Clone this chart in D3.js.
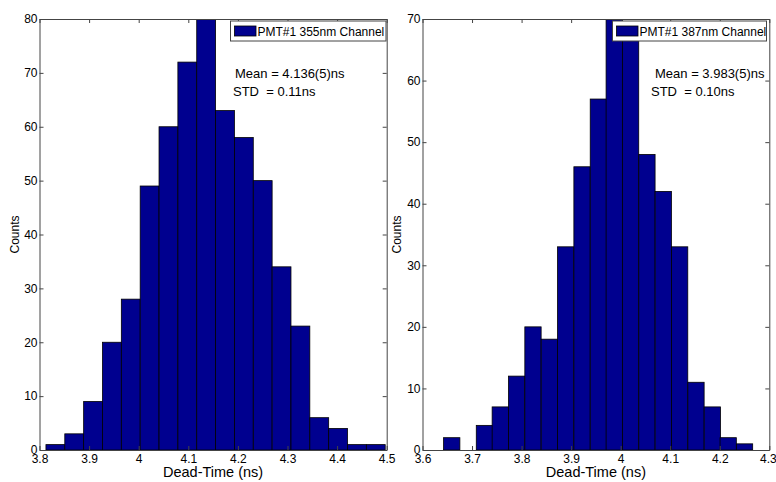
<!DOCTYPE html>
<html>
<head>
<meta charset="utf-8">
<script src="https://cdn.jsdelivr.net/npm/d3@7"></script>
<style>
  html, body { margin: 0; padding: 0; background: #fff; }
  svg { display: block; font-family: "Liberation Sans", Arial, Helvetica, sans-serif; }
</style>
</head>
<body>
<svg id="chart" width="776" height="482"></svg>
<script>
// Dead-time histograms for the two PMT#1 channels

// 355 nm channel
const binCenters355 = [3.832, 3.870, 3.908, 3.946, 3.984, 4.022, 4.060, 4.098, 4.136,
                       4.174, 4.212, 4.250, 4.288, 4.326, 4.364, 4.402, 4.440, 4.478];
const binWidth355 = 0.038;
const counts355 = [1, 3, 9, 20, 28, 49, 60, 72, 80, 63, 58, 50, 34, 23, 6, 4, 1, 1];
const xTicks355 = [3.8, 3.9, 4.0, 4.1, 4.2, 4.3, 4.4, 4.5];
const yTicks355 = [0, 10, 20, 30, 40, 50, 60, 70, 80];

// 387 nm channel
const binCenters387 = [3.659, 3.692, 3.725, 3.757, 3.790, 3.823, 3.856, 3.889, 3.922, 3.955,
                       3.987, 4.020, 4.053, 4.086, 4.119, 4.152, 4.185, 4.217, 4.250];
const binWidth387 = 0.0329;
const counts387 = [2, 0, 4, 7, 12, 20, 18, 33, 46, 57, 70, 68, 48, 42, 33, 11, 7, 2, 1];
const xTicks387 = [3.6, 3.7, 3.8, 3.9, 4.0, 4.1, 4.2, 4.3];
const yTicks387 = [0, 10, 20, 30, 40, 50, 60, 70];

const panels = [
  {
    id: "p355", left: 39.5, right: 386.7, top: 19, bottom: 450,
    xDomain: [3.8, 4.5], yMax: 80,
    centers: binCenters355, width: binWidth355, counts: counts355,
    xTicks: xTicks355, yTicks: yTicks355,
    legend: "PMT#1 355nm Channel", legendBox: [230.5, 21, 155.5, 20],
    stats: ["Mean = 4.136(5)ns", "STD  = 0.11ns"], statsX: [235, 233],
    countsX: 19
  },
  {
    id: "p387", left: 422.5, right: 769.3, top: 19, bottom: 450,
    xDomain: [3.6, 4.3], yMax: 70,
    centers: binCenters387, width: binWidth387, counts: counts387,
    xTicks: xTicks387, yTicks: yTicks387,
    legend: "PMT#1 387nm Channel", legendBox: [612.5, 21, 154, 20],
    stats: ["Mean = 3.983(5)ns", "STD  = 0.10ns"], statsX: [655, 651],
    countsX: 401
  }
];

const svg = d3.select("#chart");
const barFill = "#00008f";
const axisColor = "#444";
const tickLen = 4;

panels.forEach(p => {
  const x = d3.scaleLinear().domain(p.xDomain).range([p.left, p.right]);
  const y = d3.scaleLinear().domain([0, p.yMax]).range([p.bottom, p.top]);
  const g = svg.append("g");

  g.append("clipPath").attr("id", "clip-" + p.id)
    .append("rect")
    .attr("x", p.left).attr("y", p.top)
    .attr("width", p.right - p.left).attr("height", p.bottom - p.top);

  // histogram bars
  g.append("g").attr("clip-path", `url(#clip-${p.id})`)
    .selectAll("rect")
    .data(p.centers.map((c, i) => ({ c, n: p.counts[i] })).filter(d => d.n > 0))
    .join("rect")
    .attr("x", d => x(d.c - p.width / 2))
    .attr("width", d => x(d.c + p.width / 2) - x(d.c - p.width / 2))
    .attr("y", d => y(d.n))
    .attr("height", d => y(0) - y(d.n))
    .attr("fill", barFill)
    .attr("stroke", "#000")
    .attr("stroke-width", 0.8);

  // axes: ticks pointing inward on all four sides
  const bottomAxis = d3.axisBottom(x).tickValues(p.xTicks).tickSizeInner(-tickLen).tickSizeOuter(0)
    .tickFormat(d3.format("~g"));
  const topAxis = d3.axisTop(x).tickValues(p.xTicks).tickSizeInner(-tickLen).tickSizeOuter(0).tickFormat("");
  const leftAxis = d3.axisLeft(y).tickValues(p.yTicks).tickSizeInner(-tickLen).tickSizeOuter(0);
  const rightAxis = d3.axisRight(y).tickValues(p.yTicks).tickSizeInner(-tickLen).tickSizeOuter(0).tickFormat("");

  const styleAxis = sel => {
    sel.selectAll("path").attr("stroke", axisColor);
    sel.selectAll("line").attr("stroke", axisColor);
    sel.selectAll("text").attr("fill", "#000").attr("font-size", 12)
      .attr("font-family", "'Liberation Sans', Arial, sans-serif");
  };

  const gb = g.append("g").attr("transform", `translate(0,${p.bottom})`).call(bottomAxis).call(styleAxis);
  gb.selectAll("text").attr("y", 4).attr("dy", "0.71em");
  // keep the last tick label inside the canvas edge
  gb.selectAll(".tick:last-of-type text").attr("dx", p.right > 700 ? -1.5 : 0);
  g.append("g").attr("transform", `translate(0,${p.top})`).call(topAxis).call(styleAxis);
  const gl = g.append("g").attr("transform", `translate(${p.left},0)`).call(leftAxis).call(styleAxis);
  gl.selectAll("text").attr("x", -2);
  g.append("g").attr("transform", `translate(${p.right},0)`).call(rightAxis).call(styleAxis);

  // axis titles
  g.append("text")
    .attr("x", (p.left + p.right) / 2).attr("y", 477)
    .attr("text-anchor", "middle").attr("font-size", 14.5)
    .text("Dead-Time (ns)");
  g.append("text")
    .attr("transform", `translate(${p.countsX},${(p.top + p.bottom) / 2}) rotate(-90)`)
    .attr("text-anchor", "middle").attr("font-size", 12)
    .text("Counts");

  // legend
  const [lx, ly, lw, lh] = p.legendBox;
  g.append("rect").attr("x", lx).attr("y", ly).attr("width", lw).attr("height", lh)
    .attr("fill", "#fff").attr("stroke", axisColor).attr("stroke-width", 1);
  g.append("rect").attr("x", lx + 4).attr("y", ly + 5).attr("width", 21.5).attr("height", 10)
    .attr("fill", barFill).attr("stroke", "#000").attr("stroke-width", 0.8);
  g.append("text").attr("x", lx + 27).attr("y", ly + 14.5)
    .attr("font-size", 12).text(p.legend);

  // summary statistics
  g.append("text").attr("x", p.statsX[0]).attr("y", 78).attr("font-size", 13)
    .attr("xml:space", "preserve").text(p.stats[0]);
  g.append("text").attr("x", p.statsX[1]).attr("y", 96).attr("font-size", 13)
    .attr("xml:space", "preserve").text(p.stats[1]);
});
</script>
</body>
</html>
